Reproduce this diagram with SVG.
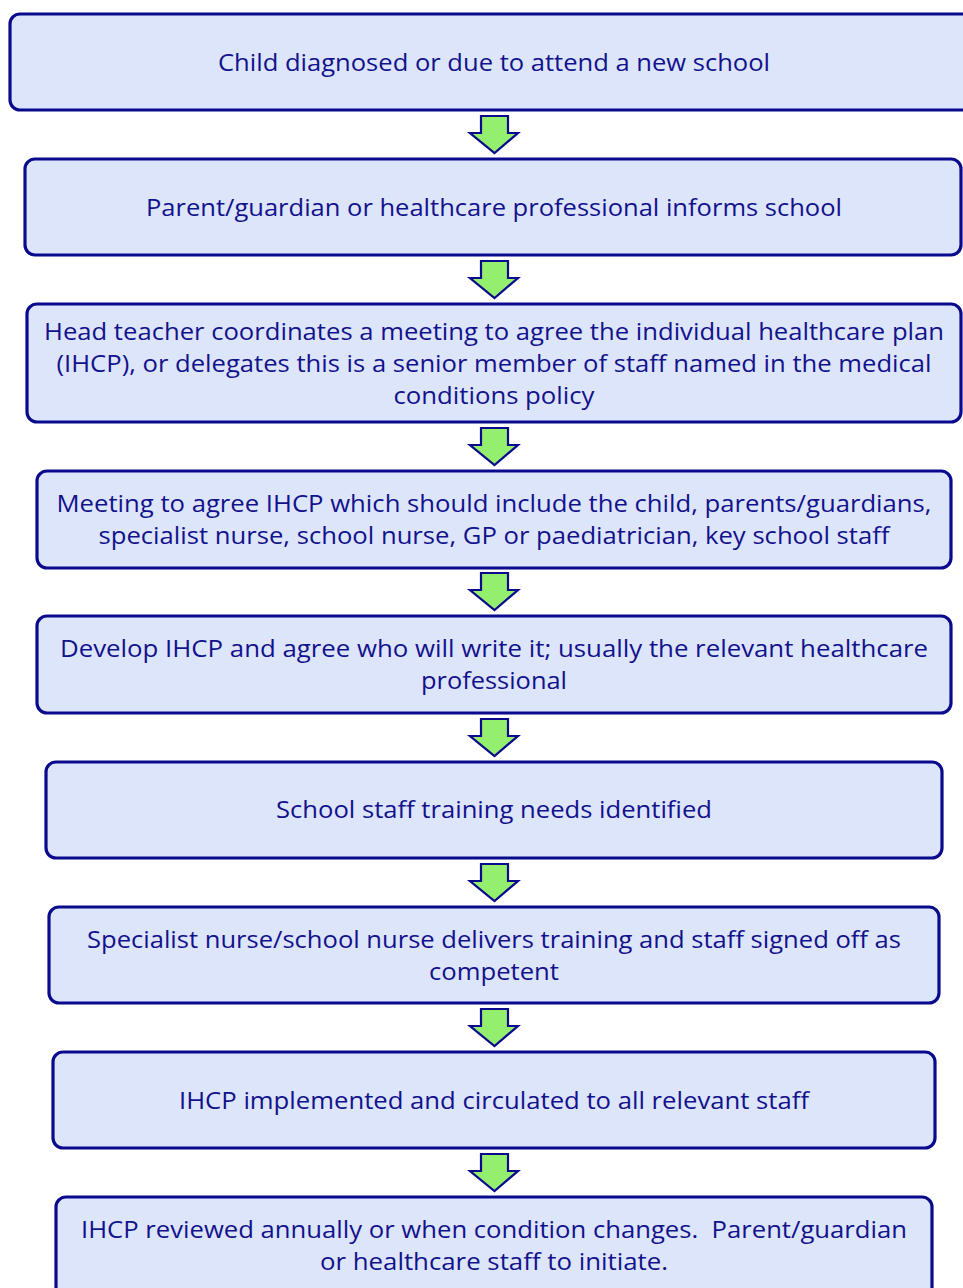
<svg xmlns="http://www.w3.org/2000/svg" width="963" height="1288" viewBox="0 0 963 1288">
<style>
.box{fill:#dde5fb;stroke:#0a0a8c;stroke-width:3.2}
.t{font-family:"Open Sans","Noto Sans",sans-serif;font-size:23px;fill:#12128c;text-anchor:middle}
.arr{fill:#95ef6f;stroke:#0a0a8c;stroke-width:2.2;stroke-linejoin:miter}
</style>
<defs>
<path id="a" d="M-13,0 H14 V17 H24 L0.5,37 L-24,17 H-13 Z"/>
</defs>
<rect width="963" height="1288" fill="#fff"/>
<g id="connectors">
<use href="#a" class="arr" x="494" y="116"/>
<use href="#a" class="arr" x="494" y="261"/>
<use href="#a" class="arr" x="494" y="428"/>
<use href="#a" class="arr" x="494" y="573"/>
<use href="#a" class="arr" x="494" y="719"/>
<use href="#a" class="arr" x="494" y="864"/>
<use href="#a" class="arr" x="494" y="1009"/>
<use href="#a" class="arr" x="494" y="1154"/>
</g>
<g id="n1"><rect class="box" x="10" y="14" width="970" height="96" rx="10"/>
<text class="t" x="494" y="71" textLength="552" lengthAdjust="spacingAndGlyphs">Child diagnosed or due to attend a new school</text></g>
<g id="n2"><rect class="box" x="25" y="159" width="936" height="96" rx="10"/>
<text class="t" x="494" y="216" textLength="696" lengthAdjust="spacingAndGlyphs">Parent/guardian or healthcare professional informs school</text></g>
<g id="n3"><rect class="box" x="27" y="304" width="934" height="118" rx="10"/>
<text class="t" x="494" y="340" textLength="900" lengthAdjust="spacingAndGlyphs">Head teacher coordinates a meeting to agree the individual healthcare plan</text>
<text class="t" x="494" y="372" textLength="875" lengthAdjust="spacingAndGlyphs">(IHCP), or delegates this is a senior member of staff named in the medical</text>
<text class="t" x="494" y="404" textLength="201" lengthAdjust="spacingAndGlyphs">conditions policy</text></g>
<g id="n4"><rect class="box" x="37" y="471" width="914" height="97" rx="10"/>
<text class="t" x="494" y="512" textLength="875" lengthAdjust="spacingAndGlyphs">Meeting to agree IHCP which should include the child, parents/guardians,</text>
<text class="t" x="494" y="544" textLength="791" lengthAdjust="spacingAndGlyphs">specialist nurse, school nurse, GP or paediatrician, key school staff</text></g>
<g id="n5"><rect class="box" x="37" y="616" width="914" height="97" rx="10"/>
<text class="t" x="494" y="657" textLength="868" lengthAdjust="spacingAndGlyphs">Develop IHCP and agree who will write it; usually the relevant healthcare</text>
<text class="t" x="494" y="689" textLength="146" lengthAdjust="spacingAndGlyphs">professional</text></g>
<g id="n6"><rect class="box" x="46" y="762" width="896" height="96" rx="10"/>
<text class="t" x="494" y="818" textLength="436" lengthAdjust="spacingAndGlyphs">School staff training needs identified</text></g>
<g id="n7"><rect class="box" x="49" y="907" width="890" height="96" rx="10"/>
<text class="t" x="494" y="948" textLength="814" lengthAdjust="spacingAndGlyphs">Specialist nurse/school nurse delivers training and staff signed off as</text>
<text class="t" x="494" y="980" textLength="130" lengthAdjust="spacingAndGlyphs">competent</text></g>
<g id="n8"><rect class="box" x="53" y="1052" width="882" height="96" rx="10"/>
<text class="t" x="494" y="1109" textLength="630" lengthAdjust="spacingAndGlyphs">IHCP implemented and circulated to all relevant staff</text></g>
<g id="n9"><rect class="box" x="56" y="1197" width="876" height="110" rx="10"/>
<text class="t" x="494" y="1238" textLength="826" lengthAdjust="spacingAndGlyphs" xml:space="preserve">IHCP reviewed annually or when condition changes.  Parent/guardian</text>
<text class="t" x="494" y="1270" textLength="348" lengthAdjust="spacingAndGlyphs">or healthcare staff to initiate.</text></g>
</svg>
